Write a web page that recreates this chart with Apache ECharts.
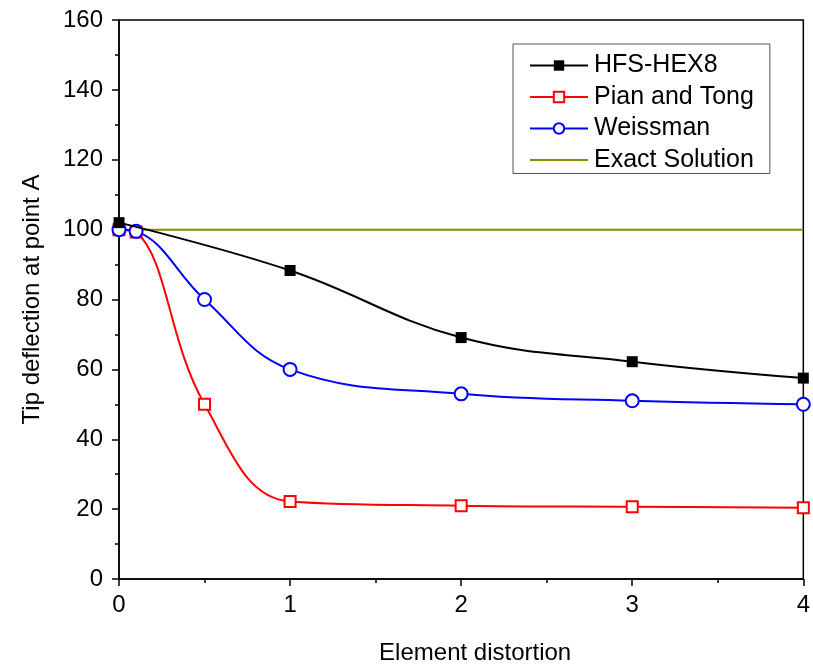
<!DOCTYPE html>
<html>
<head>
<meta charset="utf-8">
<script src="https://cdn.jsdelivr.net/npm/echarts@6/dist/echarts.min.js"></script>
<style>
  html, body { margin: 0; padding: 0; background: #fff; }
  #chart { width: 813px; height: 670px; }
</style>
</head>
<body>
<div id="chart"></div>
<script>
// Tip deflection at point A versus element distortion
const hfsX = [0, 1, 2, 3, 4];
const hfsY = [102, 88.3, 69.1, 62.2, 57.5];

const pianX = [0, 0.1, 0.5, 1, 2, 3, 4];
const pianY = [100, 99.3, 50, 22.2, 21, 20.7, 20.4];

const weissX = [0, 0.1, 0.5, 1, 2, 3, 4];
const weissY = [100, 99.5, 80, 60, 53, 51, 50];

const exactX = [0, 4];
const exactY = [100, 100];

const xTicks = { min: 0, max: 4, interval: 1 };
const yTicks = { min: 0, max: 160, interval: 20 };

const seriesNames = ['HFS-HEX8', 'Pian and Tong', 'Weissman', 'Exact Solution'];

function pairs(xs, ys) {
  return xs.map((x, i) => [x, ys[i]]);
}

const FONT = 'Liberation Sans, Arial, sans-serif';

const chart = echarts.init(document.getElementById('chart'), null, { renderer: 'canvas' });

chart.setOption({
  backgroundColor: '#fff',
  animation: false,
  grid: {
    left: 119, right: 7, top: 20, bottom: 91,
    show: true, borderColor: '#000', borderWidth: 1.5, backgroundColor: 'transparent'
  },
  legend: {
    orient: 'vertical',
    left: 513, top: 44,
    padding: [9, 16, 1, 16],
    itemGap: 6.5,
    itemWidth: 58,
    itemHeight: 13,
    borderColor: '#555',
    borderWidth: 1,
    textStyle: { fontFamily: FONT, fontSize: 25, color: '#000', padding: [0, 0, 0, 1] },
    data: [
      seriesNames[0],
      seriesNames[1],
      seriesNames[2],
      { name: seriesNames[3], itemStyle: { opacity: 0 } }
    ]
  },
  xAxis: {
    type: 'value',
    min: xTicks.min, max: xTicks.max, interval: xTicks.interval,
    name: 'Element distortion',
    nameLocation: 'middle',
    nameGap: 62,
    nameTextStyle: { fontFamily: FONT, fontSize: 24, color: '#000', padding: [0, 0, 0, 28] },
    axisLine: { show: true, onZero: false, lineStyle: { color: '#000', width: 1.5 } },
    axisTick: { show: true, inside: false, length: 7, lineStyle: { color: '#000', width: 1.5 } },
    minorTick: { show: true, splitNumber: 2, length: 4, lineStyle: { color: '#000', width: 1.5 } },
    axisLabel: { fontFamily: FONT, fontSize: 24, color: '#000', margin: 14 },
    splitLine: { show: false }
  },
  yAxis: {
    type: 'value',
    min: yTicks.min, max: yTicks.max, interval: yTicks.interval,
    name: 'Tip deflection at point A',
    nameLocation: 'middle',
    nameGap: 75,
    nameTextStyle: { fontFamily: FONT, fontSize: 24, color: '#000' },
    axisLine: { show: true, onZero: false, lineStyle: { color: '#000', width: 1.5 } },
    axisTick: { show: true, inside: false, length: 7, lineStyle: { color: '#000', width: 1.5 } },
    minorTick: { show: true, splitNumber: 2, length: 4, lineStyle: { color: '#000', width: 1.5 } },
    axisLabel: { fontFamily: FONT, fontSize: 24, color: '#000', margin: 16 },
    splitLine: { show: false }
  },
  series: [
    {
      name: seriesNames[3],
      type: 'line',
      data: pairs(exactX, exactY),
      symbol: 'none',
      lineStyle: { color: '#8a8a00', width: 2 },
      itemStyle: { color: '#8a8a00' },
      z: 1
    },
    {
      name: seriesNames[0],
      type: 'line',
      data: pairs(hfsX, hfsY),
      smooth: 0.4,
      symbol: 'rect',
      symbolSize: 11,
      lineStyle: { color: '#000', width: 2 },
      itemStyle: { color: '#000' },
      z: 4
    },
    {
      name: seriesNames[1],
      type: 'line',
      data: pairs(pianX, pianY),
      smooth: 0.4,
      symbol: 'emptyRect',
      symbolSize: 11,
      lineStyle: { color: '#ff0000', width: 2 },
      itemStyle: { color: '#ff0000', borderWidth: 1.2 },
      z: 3
    },
    {
      name: seriesNames[2],
      type: 'line',
      data: pairs(weissX, weissY),
      smooth: 0.4,
      symbol: 'emptyCircle',
      symbolSize: 13,
      lineStyle: { color: '#0000ff', width: 2 },
      itemStyle: { color: '#0000ff', borderWidth: 1.2 },
      z: 3
    }
  ]
});
</script>
</body>
</html>
